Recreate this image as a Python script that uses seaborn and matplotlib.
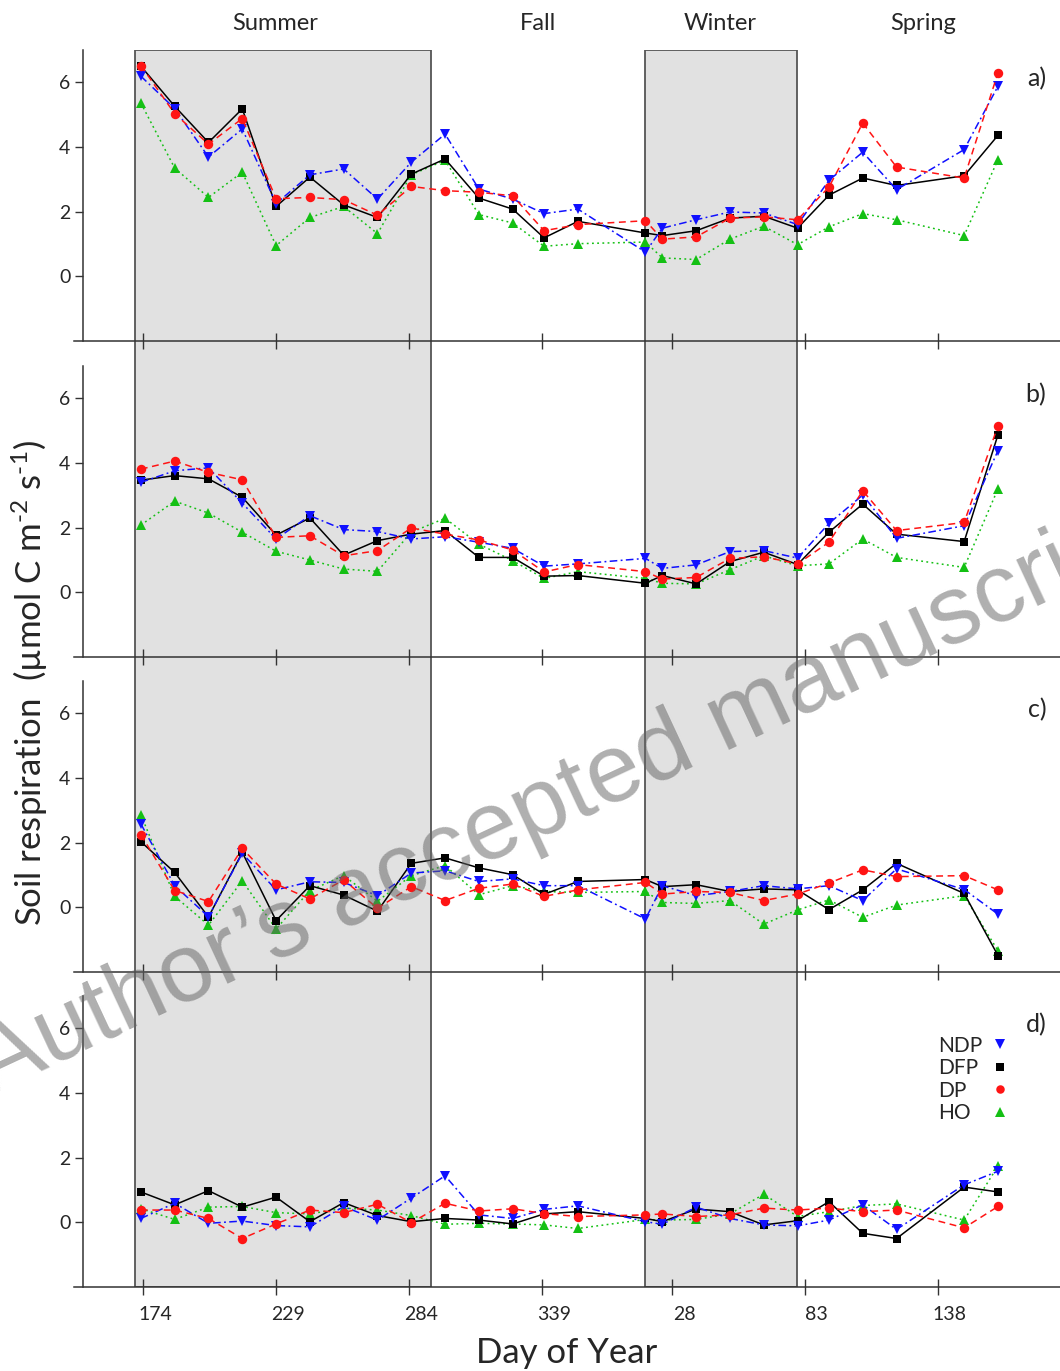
import numpy as np
import pandas as pd
import matplotlib
matplotlib.use("Agg")
import matplotlib.pyplot as plt
import matplotlib.transforms as mtrans
from matplotlib.lines import Line2D
import seaborn as sns

# sampling days (continuous day count, second year continues past 365)
days = [173, 187, 201, 215, 229, 243, 257, 271, 285, 299, 313, 327, 340,
        354, 382, 389, 403, 417, 431, 445, 458, 472, 486, 514, 528]
tick_pos = [174, 229, 284, 339, 393, 448, 503]
tick_lab = ["174", "229", "284", "339", "28", "83", "138"]
seasons = ["Summer", "Fall", "Winter", "Spring"]
season_x = [228.5, 337.4, 412.8, 496.9]
summer_span = (170.7, 293.0)
winter_span = (381.8, 444.9)

# panel a
ndp_a = [6.19, 5.19, 3.69, 4.56, 2.25, 3.14, 3.32, 2.39, 3.53, 4.40, 2.70, 2.39, 1.94,
         2.08, 0.75, 1.49, 1.75, 1.99, 1.96, 1.60, 2.97, 3.84, 2.68, 3.92, 5.88]
dfp_a = [6.50, 5.26, 4.14, 5.18, 2.16, 3.07, 2.21, 1.82, 3.16, 3.63, 2.42, 2.08, 1.19,
         1.70, 1.34, 1.26, 1.41, 1.80, 1.86, 1.49, 2.51, 3.04, 2.81, 3.11, 4.36]
dp_a = [6.52, 5.03, 4.09, 4.88, 2.40, 2.44, 2.37, 1.89, 2.78, 2.65, 2.60, 2.49, 1.41,
        1.60, 1.72, 1.15, 1.22, 1.80, 1.84, 1.75, 2.76, 4.74, 3.38, 3.04, 6.29]
ho_a = [5.36, 3.35, 2.44, 3.22, 0.95, 1.82, 2.16, 1.32, 3.14, 3.59, 1.91, 1.65, 0.93,
        1.01, 1.06, 0.57, 0.52, 1.15, 1.55, 0.98, 1.53, 1.94, 1.75, 1.26, 3.61]
# panel b
ndp_b = [3.40, 3.76, 3.85, 2.76, 1.65, 2.37, 1.94, 1.88, 1.65, 1.72, 1.55, 1.36, 0.81,
         0.88, 1.05, 0.74, 0.85, 1.26, 1.29, 1.06, 2.13, 3.01, 1.67, 2.06, 4.38]
dfp_b = [3.47, 3.61, 3.51, 2.94, 1.77, 2.30, 1.15, 1.60, 1.80, 1.91, 1.08, 1.08, 0.50,
         0.52, 0.28, 0.52, 0.26, 0.95, 1.24, 0.86, 1.86, 2.73, 1.80, 1.57, 4.87]
dp_b = [3.81, 4.06, 3.71, 3.48, 1.70, 1.75, 1.13, 1.29, 1.99, 1.80, 1.62, 1.31, 0.63,
        0.86, 0.64, 0.41, 0.46, 1.05, 1.10, 0.88, 1.55, 3.14, 1.91, 2.16, 5.15]
ho_b = [2.08, 2.82, 2.45, 1.86, 1.27, 1.00, 0.72, 0.65, 1.86, 2.29, 1.49, 0.98, 0.43,
        0.64, 0.43, 0.28, 0.26, 0.70, 1.13, 0.82, 0.88, 1.65, 1.08, 0.77, 3.20]
# panel c
ndp_c = [2.58, 0.67, -0.29, 1.67, 0.54, 0.79, 0.77, 0.36, 1.06, 1.13, 0.80, 0.88, 0.67,
         0.67, -0.36, 0.67, 0.36, 0.49, 0.67, 0.57, 0.67, 0.21, 1.19, 0.55, -0.21]
dfp_c = [2.03, 1.08, -0.30, 1.70, -0.41, 0.67, 0.38, -0.12, 1.36, 1.53, 1.22, 1.01, 0.40,
         0.80, 0.86, 0.64, 0.70, 0.49, 0.57, 0.54, -0.07, 0.54, 1.36, 0.43, -1.49]
dp_c = [2.25, 0.52, 0.18, 1.82, 0.72, 0.26, 0.85, -0.03, 0.64, 0.21, 0.59, 0.72, 0.34,
        0.54, 0.77, 0.41, 0.49, 0.46, 0.21, 0.41, 0.75, 1.16, 0.95, 0.98, 0.54]
ho_c = [2.86, 0.34, -0.55, 0.82, -0.67, 0.52, 0.98, 0.19, 0.98, 1.29, 0.39, 0.67, 0.49,
        0.46, 0.49, 0.15, 0.12, 0.21, -0.52, -0.08, 0.23, -0.31, 0.07, 0.36, -1.34]
# panel d
ndp_d = [0.12, 0.59, -0.03, 0.04, -0.10, -0.14, 0.49, 0.07, 0.75, 1.44, 0.23, 0.12, 0.40,
         0.51, 0.02, -0.06, 0.47, 0.12, -0.08, -0.11, 0.07, 0.54, -0.22, 1.16, 1.58]
dfp_d = [0.94, 0.54, 0.98, 0.47, 0.78, 0.02, 0.61, 0.21, 0.02, 0.12, 0.07, -0.05, 0.26,
         0.33, 0.12, 0.02, 0.41, 0.33, -0.08, 0.05, 0.64, -0.34, -0.50, 1.09, 0.94]
dp_d = [0.38, 0.38, 0.12, -0.50, -0.05, 0.38, 0.30, 0.56, -0.01, 0.59, 0.35, 0.42, 0.27,
        0.18, 0.23, 0.26, 0.18, 0.23, 0.44, 0.38, 0.44, 0.33, 0.38, -0.17, 0.49]
ho_d = [0.42, 0.09, 0.47, 0.49, 0.30, 0.26, 0.44, 0.38, 0.21, -0.06, -0.03, -0.05, -0.08,
        -0.19, 0.09, 0.07, 0.09, 0.26, 0.87, 0.18, 0.33, 0.52, 0.57, 0.07, 1.74]

panels = {
    "a)": {"NDP": ndp_a, "DFP": dfp_a, "DP": dp_a, "HO": ho_a},
    "b)": {"NDP": ndp_b, "DFP": dfp_b, "DP": dp_b, "HO": ho_b},
    "c)": {"NDP": ndp_c, "DFP": dfp_c, "DP": dp_c, "HO": ho_c},
    "d)": {"NDP": ndp_d, "DFP": dfp_d, "DP": dp_d, "HO": ho_d},
}

# style per treatment: colour, marker, markersize, linestyle
styles = {
    "HO": ("#14c014", "^", 7.5, (0, (1.2, 2.2))),
    "DFP": ("black", "s", 5.8, "-"),
    "NDP": ("#1010ff", "v", 7.5, (0, (5, 2.2, 1.2, 2.2))),
    "DP": ("#ff1414", "o", 6.8, (0, (4.5, 3))),
}
legend_order = ["NDP", "DFP", "DP", "HO"]

sns.set_style("ticks")
plt.rcParams["font.family"] = ["Lato", "DejaVu Sans"]
plt.rcParams["mathtext.fontset"] = "custom"
plt.rcParams["mathtext.rm"] = "Lato"
plt.rcParams["mathtext.it"] = "Lato"

W, H = 1060, 1371
fig = plt.figure(figsize=(W / 100, H / 100), dpi=100)


def rect(top, bottom):
    return [74 / W, 1 - bottom / H, (1060 - 74) / W, (bottom - top) / H]


xlim = (145.3, 553.7)

# background axis holding the season shading across all panels
bg = fig.add_axes(rect(50, 1287))
bg.set_xlim(xlim)
bg.set_ylim(0, 1)
bg.axis("off")
for lo, hi in [summer_span, winter_span]:
    bg.axvspan(lo, hi, facecolor="#e1e1e1", edgecolor="#555555", lw=1.3)

bounds = [(50, 341), (366, 657), (681, 972), (996, 1287)]
axes = []
for (top, bottom), (letter, series) in zip(bounds, panels.items()):
    ax = fig.add_axes(rect(top, bottom))
    ax.patch.set_alpha(0)
    for name in ["HO", "DFP", "NDP", "DP"]:
        col, mk, ms, ls = styles[name]
        sns.lineplot(x=days, y=series[name], ax=ax, color=col, marker=mk,
                     markersize=ms, markeredgewidth=0, lw=1.1)
        ax.lines[-1].set_linestyle(ls)
    ax.set_xlim(xlim)
    ax.set_ylim(-2, 7)
    ax.set_yticks([0, 2, 4, 6])
    ax.set_xticks(tick_pos)
    ax.spines["top"].set_visible(False)
    ax.spines["right"].set_visible(False)
    ax.spines["left"].set_position(("data", 149.0))
    for sp in ["left", "bottom"]:
        ax.spines[sp].set_color("#333333")
        ax.spines[sp].set_linewidth(1.1)
    ax.tick_params(axis="x", direction="inout", length=12, width=1, color="#333333",
                   pad=8)
    ax.tick_params(axis="y", direction="out", length=6, width=1, color="#333333",
                   labelsize=14, pad=3)
    ax.set_xlabel("")
    ax.set_ylabel("")
    ax.text(548, 6.1, letter, ha="right", va="center", fontsize=18)
    axes.append(ax)

for ax in axes[:-1]:
    ax.set_xticklabels([])

axd = axes[-1]
axd.set_xticklabels(tick_lab, fontsize=14)
shift = mtrans.ScaledTranslation(0.12, 0, fig.dpi_scale_trans)
for lab in axd.get_xticklabels():
    lab.set_transform(lab.get_transform() + shift)
axd.set_xlabel("Day of Year", fontsize=25, labelpad=10)

# legend: names left-aligned in one column, markers in a second column
name_handles = [Line2D([], [], linestyle="none") for _ in legend_order]
mark_handles = []
for name in legend_order:
    col, mk, ms, ls = styles[name]
    mark_handles.append(Line2D([], [], color=col, marker=mk, markersize=ms * 0.9,
                               markeredgewidth=0, linestyle="none"))
leg_kw = dict(loc="upper left", frameon=False, fontsize=15, labelspacing=0.12,
              borderpad=0, borderaxespad=0)
leg1 = axd.legend(name_handles, legend_order, bbox_to_anchor=(0.876, 0.864),
                  handlelength=0, handletextpad=0, **leg_kw)
axd.add_artist(leg1)
axd.legend(mark_handles, [" "] * 4, bbox_to_anchor=(0.929, 0.864),
           handlelength=1.0, handletextpad=0, **leg_kw)

axa = axes[0]
for s, sx in zip(seasons, season_x):
    axa.text(sx, 1 + 26 / 291, s, transform=axa.get_xaxis_transform(),
             ha="center", va="center", fontsize=17)

fig.text(30 / W, 1 - 683 / H,
         r"Soil respiration  (µmol C m$^{\text{-}2}$ s$^{\text{-}1}$)",
         rotation=90, ha="center", va="center", fontsize=25)

fig.text(-8 / W, 1 - 1094 / H, "Author\u2019s accepted manuscript", rotation=25,
         rotation_mode="anchor", ha="left", va="baseline", fontsize=70,
         family="Liberation Sans", color="#656565", alpha=0.52, zorder=10)

fig.savefig("out.png", dpi=100)
